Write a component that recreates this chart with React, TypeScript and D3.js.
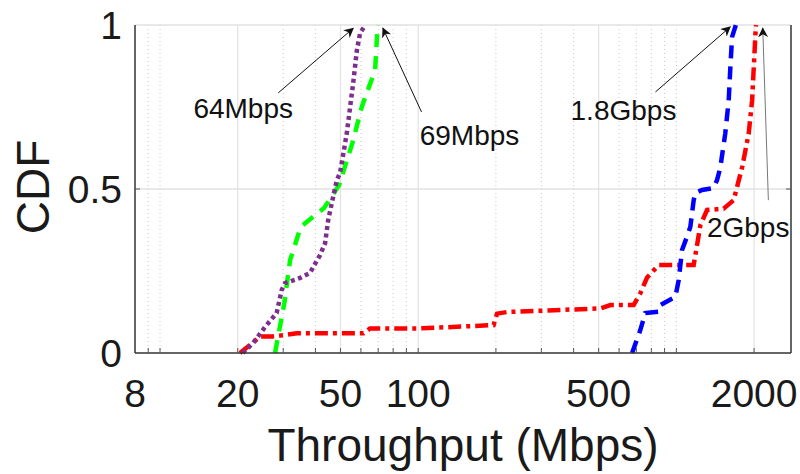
import { useRef, useEffect } from "react";
import * as d3 from "d3";

// CDF samples [throughput Mbps, cumulative fraction]
const purpleCdf: [number, number][] = [
  [20.9, 0], [22.9, 0.03], [25.5, 0.079], [28.3, 0.122], [29.6, 0.192],
  [30.5, 0.213], [34.9, 0.229], [38.1, 0.244], [41.7, 0.299], [43.6, 0.335],
  [44.8, 0.405], [46.8, 0.475], [48.4, 0.527], [49.8, 0.549], [52.9, 0.67],
  [56, 0.823], [57.9, 0.924], [59.6, 0.976], [62.5, 1],
];

const greenCdf: [number, number][] = [
  [27.9, 0], [28.5, 0.04], [30.3, 0.152], [31.9, 0.283], [35.1, 0.385],
  [43.2, 0.442], [49.4, 0.512], [55.6, 0.64], [60.5, 0.751], [68.1, 0.863],
  [69.5, 0.985], [69.8, 1],
];

const blueCdf: [number, number][] = [
  [674, 0], [725, 0.07], [758, 0.122], [854, 0.126], [867, 0.146],
  [991, 0.171], [1021, 0.222], [1052, 0.314], [1100, 0.355], [1133, 0.385],
  [1167, 0.466], [1186, 0.488], [1257, 0.497], [1394, 0.503], [1437, 0.527],
  [1479, 0.564], [1547, 0.67], [1595, 0.77], [1619, 0.873], [1644, 0.964],
  [1700, 1],
];

const redCdf: [number, number][] = [
  [20.4, 0], [22.3, 0.024], [24.4, 0.05], [27.1, 0.05], [33.9, 0.06],
  [61.4, 0.06], [65.1, 0.075], [101.8, 0.075], [196, 0.085], [202, 0.12],
  [221, 0.125], [507, 0.136], [555, 0.146], [683, 0.146], [725, 0.182],
  [770, 0.23], [854, 0.268], [1167, 0.268], [1203, 0.33], [1239, 0.39],
  [1315, 0.436], [1525, 0.44], [1667, 0.466], [1718, 0.506], [1799, 0.567],
  [1907, 0.67], [1965, 0.77], [1995, 0.872], [2025, 0.974], [2035, 1],
];

const xTicks = [8, 20, 50, 100, 500, 2000];
const xMinor = [9, 10, 30, 40, 60, 70, 80, 90, 200, 300, 400, 600, 700, 800, 900, 1000];
const yTicks = [0, 0.5, 1];

// label, text position, arrow tail, arrow tip (data units)
const notes = [
  { label: "64Mbps", text: [21, 0.747], from: [28.7, 0.793], to: [56, 0.99] },
  { label: "69Mbps", text: [158, 0.665], from: [103, 0.735], to: [73, 0.99] },
  { label: "1.8Gbps", text: [624, 0.741], from: [830, 0.796], to: [1616, 0.994] },
  { label: "2Gbps", text: [1897, 0.384], from: [2272, 0.466], to: [2161, 0.99] },
];

const CdfChart = () => {
  const svgRef = useRef<SVGSVGElement>(null);

  useEffect(() => {
    const width = 800;
    const height = 474;
    const margin = { top: 25, right: 9, bottom: 121, left: 135 };
    const w = width - margin.left - margin.right;
    const h = height - margin.top - margin.bottom;
    const font = "'Liberation Sans', Arial, sans-serif";

    const root = d3.select(svgRef.current);
    root.selectAll("*").remove();
    root.attr("width", width).attr("height", height);

    const defs = root.append("defs");
    defs
      .append("marker")
      .attr("id", "arrow")
      .attr("viewBox", "0 0 10 10")
      .attr("refX", 9)
      .attr("refY", 5)
      .attr("markerWidth", 10)
      .attr("markerHeight", 10)
      .attr("markerUnits", "userSpaceOnUse")
      .attr("orient", "auto")
      .append("path")
      .attr("d", "M0,0 L10,5 L0,10 L3,5 Z")
      .attr("fill", "#111");

    const svg = root.append("g").attr("transform", `translate(${margin.left},${margin.top})`);

    const x = d3.scaleLog().domain([8, 2780]).range([0, w]);
    const y = d3.scaleLinear().domain([0, 1]).range([h, 0]);

    // grid
    svg
      .append("g")
      .selectAll("line")
      .data(xMinor)
      .join("line")
      .attr("x1", (d) => x(d))
      .attr("x2", (d) => x(d))
      .attr("y1", 0)
      .attr("y2", h)
      .attr("stroke", "#c8c8c8")
      .attr("stroke-width", 1)
      .attr("stroke-dasharray", "1,3");

    svg
      .append("g")
      .selectAll("line")
      .data(xTicks.slice(1))
      .join("line")
      .attr("x1", (d) => x(d))
      .attr("x2", (d) => x(d))
      .attr("y1", 0)
      .attr("y2", h)
      .attr("stroke", "#e2e2e2")
      .attr("stroke-width", 1.2);

    svg
      .append("g")
      .selectAll("line")
      .data([0.5, 1])
      .join("line")
      .attr("x1", 0)
      .attr("x2", w)
      .attr("y1", (d) => y(d))
      .attr("y2", (d) => y(d))
      .attr("stroke", "#e2e2e2")
      .attr("stroke-width", 1.5);

    // curves
    const line = d3
      .line<[number, number]>()
      .x((d) => x(d[0]))
      .y((d) => y(d[1]));

    const curves = [
      { data: redCdf, color: "#ff0000", dash: "13,5,4,5" },
      { data: blueCdf, color: "#0000ff", dash: "13,8" },
      { data: greenCdf, color: "#00ff00", dash: "13,9" },
      { data: purpleCdf, color: "#7e2f8e", dash: "4,3.5" },
    ];

    svg
      .append("g")
      .selectAll("path")
      .data(curves)
      .join("path")
      .attr("d", (d) => line(d.data))
      .attr("fill", "none")
      .attr("stroke", (d) => d.color)
      .attr("stroke-width", 4.5)
      .attr("stroke-dasharray", (d) => d.dash);

    // axes box
    const box = svg.append("g").attr("stroke", "#333").attr("stroke-width", 1.5);
    box.append("line").attr("x1", 0).attr("x2", w).attr("y1", h).attr("y2", h);
    box.append("line").attr("x1", 0).attr("x2", 0).attr("y1", 0).attr("y2", h);
    box.append("line").attr("x1", w).attr("x2", w).attr("y1", 0).attr("y2", h);

    // ticks (inward)
    svg
      .append("g")
      .selectAll("line")
      .data([...xTicks.slice(1), ...xMinor])
      .join("line")
      .attr("x1", (d) => x(d))
      .attr("x2", (d) => x(d))
      .attr("y1", h)
      .attr("y2", h - 5)
      .attr("stroke", "#555")
      .attr("stroke-width", 1);

    svg
      .append("g")
      .selectAll("line")
      .data([0.5])
      .join("line")
      .attr("x1", 0)
      .attr("x2", 5)
      .attr("y1", (d) => y(d))
      .attr("y2", (d) => y(d))
      .attr("stroke", "#555");

    svg
      .append("g")
      .selectAll("line")
      .data([0.5])
      .join("line")
      .attr("x1", w - 5)
      .attr("x2", w)
      .attr("y1", (d) => y(d))
      .attr("y2", (d) => y(d))
      .attr("stroke", "#555");

    // tick labels
    svg
      .append("g")
      .selectAll("text")
      .data(xTicks)
      .join("text")
      .attr("x", (d) => x(d))
      .attr("y", h + 54)
      .attr("text-anchor", "middle")
      .attr("font-family", font)
      .attr("font-size", 39)
      .attr("fill", "#1a1a1a")
      .text((d) => d);

    svg
      .append("g")
      .selectAll("text")
      .data(yTicks)
      .join("text")
      .attr("x", -13)
      .attr("y", (d) => y(d) + 14)
      .attr("text-anchor", "end")
      .attr("font-family", font)
      .attr("font-size", 39)
      .attr("fill", "#1a1a1a")
      .text((d) => d);

    // axis titles
    svg
      .append("text")
      .attr("x", w / 2)
      .attr("y", h + 108)
      .attr("text-anchor", "middle")
      .attr("font-family", font)
      .attr("font-size", 46)
      .attr("fill", "#1a1a1a")
      .text("Throughput (Mbps)");

    svg
      .append("text")
      .attr("transform", `translate(${-86}, ${h / 2 - 2}) rotate(-90)`)
      .attr("text-anchor", "middle")
      .attr("font-family", font)
      .attr("font-size", 46)
      .attr("fill", "#1a1a1a")
      .text("CDF");

    // annotations
    const ann = svg.append("g");
    ann
      .selectAll("line")
      .data(notes)
      .join("line")
      .attr("x1", (d) => x(d.from[0]))
      .attr("y1", (d) => y(d.from[1]))
      .attr("x2", (d) => x(d.to[0]))
      .attr("y2", (d) => y(d.to[1]))
      .attr("stroke", (d) => (d.label === "2Gbps" ? "#777" : "#111"))
      .attr("stroke-width", 1)
      .attr("marker-end", "url(#arrow)");

    ann
      .selectAll("text")
      .data(notes)
      .join("text")
      .attr("x", (d) => x(d.text[0]))
      .attr("y", (d) => y(d.text[1]))
      .attr("dy", "0.35em")
      .attr("text-anchor", "middle")
      .attr("font-family", font)
      .attr("font-size", 28)
      .attr("fill", "#111")
      .text((d) => d.label);
  }, []);

  return (
    <div>
      <style>{`body { margin: 0; }`}</style>
      <svg ref={svgRef} style={{ display: "block", background: "#fff" }}></svg>
    </div>
  );
};

export default CdfChart;
